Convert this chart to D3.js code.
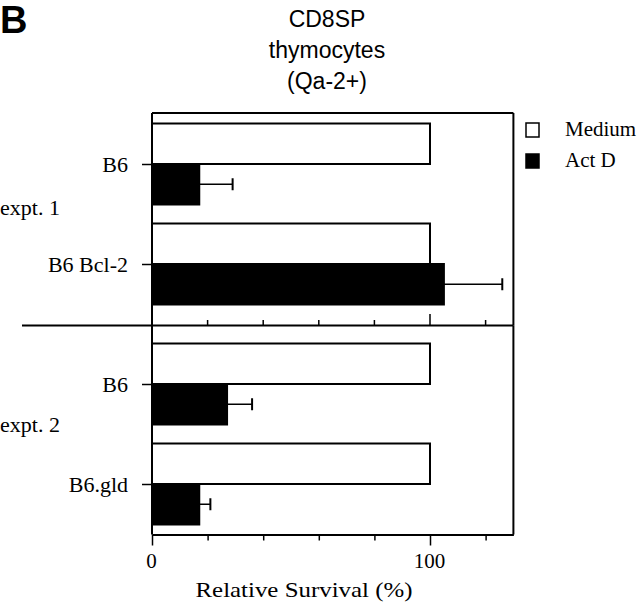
<!DOCTYPE html>
<html>
<head>
<meta charset="utf-8">
<script src="https://cdn.jsdelivr.net/npm/d3@7"></script>
<style>
  body { margin: 0; background: #fff; }
  .serif { font-family: "Liberation Serif", "Times New Roman", serif; }
</style>
</head>
<body>
<div class="chart"></div>
<script>
// chart values
var strains = ["B6", "B6 Bcl-2", "B6", "B6.gld"];
var experiments = ["expt. 1", "expt. 1", "expt. 2", "expt. 2"];
var treatments = ["Medium", "Act D"];
var mediumValues = [100, 100, 100, 100];
var actDValues = [17, 105, 27, 17];
var actDErrors = [12, 21, 9, 4];
var xTicks = [0, 20, 40, 60, 80, 100, 120];
var xTickLabels = [0, 100];
var titleLines = ["CD8SP", "thymocytes", "(Qa-2+)"];

var svgWidth = 640;
var svgHeight = 604;

var svg = d3.select(".chart")
  .append("svg")
  .attr("width", svgWidth)
  .attr("height", svgHeight);

// x scale shared by both panels
var x = d3.scaleLinear()
  .domain([0, 130])
  .range([152, 513.4]);

// panel layout (top = expt. 1, bottom = expt. 2)
var panels = [
  { name: "expt. 1", top: 113, bottom: 325.5, inner: [114, 314], labelY: 215 },
  { name: "expt. 2", top: 325.5, bottom: 534.5, inner: [334, 534], labelY: 432 }
];

// sub-band for the two treatments around a category centre
var sub = d3.scaleBand()
  .domain(treatments)
  .range([-40.5, 40.5]);

// panel letter
svg.append("text")
  .attr("x", 0)
  .attr("y", 33)
  .style("font-family", "Liberation Sans, Arial, sans-serif")
  .style("font-weight", "bold")
  .style("font-size", "38px")
  .text("B");

// title
svg.append("g")
  .selectAll("text")
  .data(titleLines)
  .enter()
  .append("text")
  .attr("x", 327)
  .attr("y", (d, i) => 27 + i * 31)
  .attr("text-anchor", "middle")
  .style("font-family", "Liberation Sans, Arial, sans-serif")
  .style("font-size", "23px")
  .text(d => d);

panels.forEach(p => {
  var idx = experiments.map((e, i) => e === p.name ? i : -1).filter(i => i >= 0);
  var y = d3.scalePoint()
    .domain(idx)
    .range(p.inner)
    .padding(0.5);

  var g = svg.append("g");

  // bars
  idx.forEach(i => {
    var vals = [mediumValues[i], actDValues[i]];
    g.selectAll(null)
      .data(treatments)
      .enter()
      .append("rect")
      .attr("x", x(0))
      .attr("y", t => y(i) + sub(t))
      .attr("width", (t, k) => x(vals[k]) - x(0))
      .attr("height", sub.bandwidth())
      .attr("fill", t => t === "Medium" ? "#fff" : "#000")
      .attr("stroke", "#000")
      .attr("stroke-width", 2);

    // error bar on Act D
    var cy = y(i) + sub("Act D") + sub.bandwidth() / 2;
    var xe = x(actDValues[i] + actDErrors[i]);
    g.append("line")
      .attr("x1", x(actDValues[i]))
      .attr("x2", xe)
      .attr("y1", cy)
      .attr("y2", cy)
      .attr("stroke", "#000")
      .attr("stroke-width", 1.5);
    g.append("line")
      .attr("x1", xe)
      .attr("x2", xe)
      .attr("y1", cy - 6)
      .attr("y2", cy + 6)
      .attr("stroke", "#000")
      .attr("stroke-width", 2);
  });

  // left axis with category labels
  var leftAxis = d3.axisLeft(y)
    .tickSize(10)
    .tickPadding(14)
    .tickFormat(i => strains[i]);
  var yAxis = g.append("g")
    .attr("transform", `translate(${x(0)}, 0)`)
    .call(leftAxis);
  yAxis.select(".domain").remove();
  yAxis.selectAll("line").attr("stroke-width", 1.5);
  yAxis.selectAll("text")
    .attr("class", "serif")
    .style("font-size", "22px")
    .attr("fill", "#000");

  // frame: left axis line, right border
  g.append("line")
    .attr("x1", x(0)).attr("x2", x(0))
    .attr("y1", p.top).attr("y2", p.bottom)
    .attr("stroke", "#000").attr("stroke-width", 2);
  g.append("line")
    .attr("x1", x(130)).attr("x2", x(130))
    .attr("y1", p.top).attr("y2", p.bottom)
    .attr("stroke", "#000").attr("stroke-width", 2);

  // experiment label
  g.append("text")
    .attr("class", "serif")
    .attr("x", 0)
    .attr("y", p.labelY)
    .style("font-size", "22px")
    .text(p.name);
});

// top frame line
svg.append("line")
  .attr("x1", x(0)).attr("x2", x(130))
  .attr("y1", 113).attr("y2", 113)
  .attr("stroke", "#000").attr("stroke-width", 2);

// separator between experiments, with inward ticks
svg.append("line")
  .attr("x1", 22).attr("x2", x(130))
  .attr("y1", 325.5).attr("y2", 325.5)
  .attr("stroke", "#000").attr("stroke-width", 2);
svg.append("g")
  .selectAll("line")
  .data(xTicks.filter(t => t > 0))
  .enter()
  .append("line")
  .attr("x1", d => x(d)).attr("x2", d => x(d))
  .attr("y1", 325.5)
  .attr("y2", d => d === 100 ? 314 : 320)
  .attr("stroke", "#000").attr("stroke-width", 1.5);

// bottom axis
var bottomAxis = d3.axisBottom(x)
  .tickValues(xTicks)
  .tickSizeOuter(0)
  .tickFormat(d => xTickLabels.indexOf(d) >= 0 ? d : "");
var xAxis = svg.append("g")
  .attr("transform", "translate(0, 534.5)")
  .call(bottomAxis);
xAxis.select(".domain").attr("stroke-width", 2);
xAxis.selectAll(".tick line")
  .attr("y2", d => xTickLabels.indexOf(d) >= 0 ? 11 : 6)
  .attr("stroke-width", 1.5);
xAxis.selectAll(".tick text")
  .attr("class", "serif")
  .attr("x", -1)
  .attr("y", 19)
  .style("font-size", "21px")
  .attr("fill", "#000");

svg.append("text")
  .attr("class", "serif")
  .attr("x", 304)
  .attr("y", 597)
  .attr("text-anchor", "middle")
  .attr("textLength", 217)
  .attr("lengthAdjust", "spacingAndGlyphs")
  .style("font-size", "22px")
  .text("Relative Survival (%)");

// legend
var legend = svg.append("g")
  .selectAll("g")
  .data(treatments)
  .enter()
  .append("g")
  .attr("transform", (d, i) => `translate(526, ${123 + i * 31})`);
legend.append("rect")
  .attr("width", 13)
  .attr("height", 14)
  .attr("fill", d => d === "Medium" ? "#fff" : "#000")
  .attr("stroke", "#000")
  .attr("stroke-width", 1.5);
legend.append("text")
  .attr("class", "serif")
  .attr("x", 39)
  .attr("y", 13)
  .style("font-size", "21px")
  .text(d => d);
</script>
</body>
</html>
